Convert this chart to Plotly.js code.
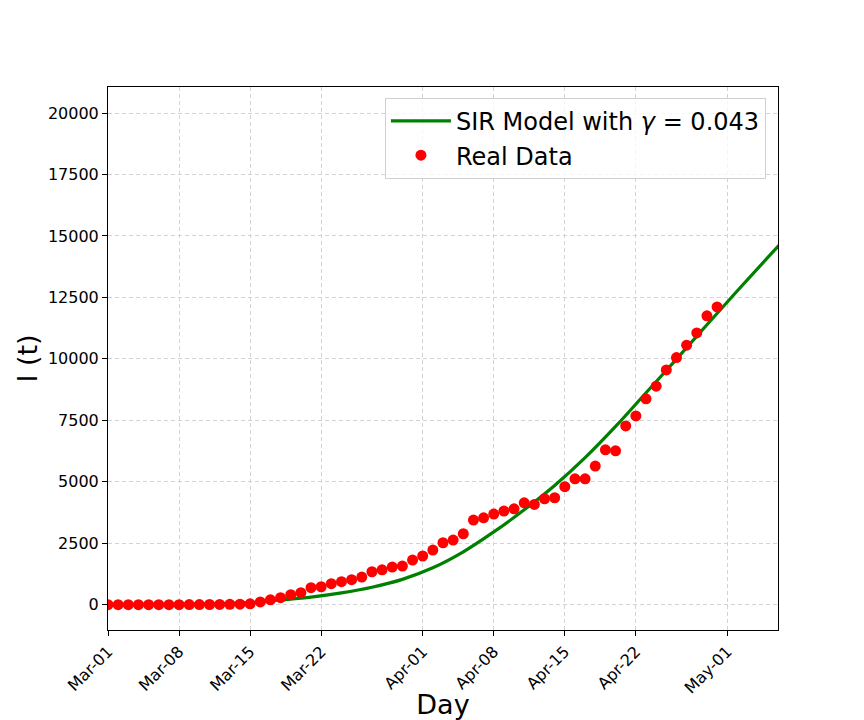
<!DOCTYPE html>
<html>
<head>
<meta charset="utf-8">
<script src="https://cdn.plot.ly/plotly-3.0.1.min.js"></script>
<style>
  body { margin: 0; background: #fff; }
  #graph { width: 864px; height: 720px; }
</style>
</head>
<body>
<div id="graph"></div>
<script>
// real data, one point per day from Mar-01 to Apr-30
var realDates = [];
var realCases = [
  0, 0, 0, 0, 1, 1, 2, 2, 3, 5, 7, 10, 15, 20,      // Mar 1 - Mar 14
  35, 110, 200, 285, 405, 490, 690, 730, 855, 935,   // Mar 15 - Mar 24
  1015, 1125, 1340, 1420, 1530, 1570, 1815,          // Mar 25 - Mar 31
  1980, 2220, 2520, 2630, 2885, 3440, 3535, 3685,    // Apr 1 - Apr 8
  3810, 3900, 4145, 4080, 4310, 4350, 4800, 5120,    // Apr 9 - Apr 16
  5120, 5640, 6300, 6260, 7270, 7680, 8375, 8890,    // Apr 17 - Apr 24
  9550, 10055, 10555, 11055, 11750, 12115            // Apr 25 - Apr 30
];

// SIR model curve, sampled days (day 0 = Mar-01)
var modelDays = [0, 5, 10, 14, 17, 20, 23, 26, 29, 32, 35, 38, 41, 44, 47, 50, 53, 56, 59, 62, 65, 68];
var modelI    = [0, 10, 30, 80, 190, 310, 480, 710, 1030, 1500, 2150, 2960, 3860, 4850, 5980, 7250, 8620, 9990, 11390, 12770, 14130, 15480];

var tickDates  = ['2020-03-01','2020-03-08','2020-03-15','2020-03-22','2020-04-01','2020-04-08','2020-04-15','2020-04-22','2020-05-01'];
var tickLabels = ['Mar-01','Mar-08','Mar-15','Mar-22','Apr-01','Apr-08','Apr-15','Apr-22','May-01'];
var yTicks = [0, 2500, 5000, 7500, 10000, 12500, 15000, 17500, 20000];
var yLabels = ['0', '2500', '5000', '7500', '10000', '12500', '15000', '17500', '20000'];

function dayToDate(d){
  var t = new Date(Date.UTC(2020, 2, 1) + d * 86400000);
  return t.toISOString().slice(0, 10);
}

for (let i = 0; i < realCases.length; i++) {
  realDates[i] = dayToDate(i);
}
var modelDates = modelDays.map(dayToDate);

var model = {
  x: modelDates,
  y: modelI,
  mode: 'lines',
  type: 'scatter',
  name: 'SIR Model with <i>γ</i> = 0.043',
  line: {color: 'green', width: 3.2, shape: 'spline', smoothing: 1}
};

var real = {
  x: realDates,
  y: realCases,
  mode: 'markers',
  type: 'scatter',
  name: 'Real Data',
  marker: {color: 'red', size: 11}
};

var layout = {
  width: 864,
  height: 720,
  margin: {l: 108, r: 86, t: 87, b: 90},
  paper_bgcolor: '#fff',
  plot_bgcolor: '#fff',
  font: {family: 'DejaVu Sans', color: '#000'},
  showlegend: true,
  legend: {
    x: 0.982, y: 0.98, xanchor: 'right', yanchor: 'top',
    bgcolor: 'rgba(255,255,255,0.8)',
    bordercolor: '#d0d0d0', borderwidth: 1,
    itemwidth: 60,
    font: {family: 'DejaVu Sans', size: 24, color: '#000'}
  },
  xaxis: {
    type: 'date',
    range: ['2020-03-01', '2020-05-06'],
    tickvals: tickDates,
    ticktext: tickLabels,
    tickangle: -45,
    tickfont: {family: 'DejaVu Sans', size: 16},
    ticks: 'outside', ticklen: 5, tickcolor: '#000',
    showline: true, linecolor: '#000', linewidth: 1, mirror: true,
    showgrid: true, gridcolor: '#d3d3d3', griddash: '4px,3px', gridwidth: 1,
    zeroline: false,
    title: {text: 'Day', font: {family: 'DejaVu Sans', size: 27}, standoff: 8}
  },
  yaxis: {
    range: [-1030, 21060],
    tickvals: yTicks,
    ticktext: yLabels,
    tickfont: {family: 'DejaVu Sans', size: 16},
    ticks: 'outside', ticklen: 5, tickcolor: '#000',
    showline: true, linecolor: '#000', linewidth: 1, mirror: true,
    showgrid: true, gridcolor: '#d3d3d3', griddash: '4px,3px', gridwidth: 1,
    zeroline: false,
    title: {text: 'I (t)', font: {family: 'DejaVu Sans', size: 27}, standoff: 2}
  }
};

Plotly.newPlot('graph', [model, real], layout, {displayModeBar: false});
</script>
</body>
</html>
